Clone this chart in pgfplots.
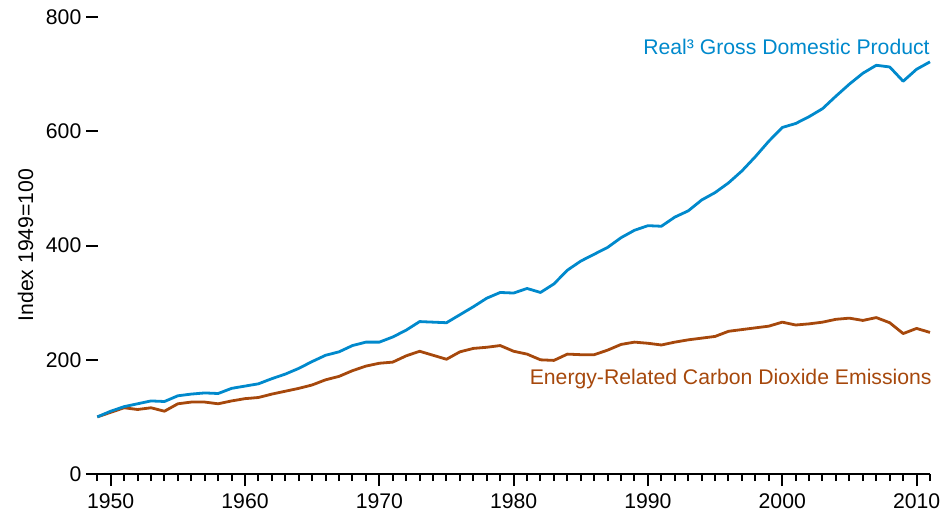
\documentclass[border=0pt]{standalone}
\usepackage{fontspec}
\setmainfont{Liberation Sans}
\usepackage{pgfplots}
\pgfplotsset{compat=1.18}
\definecolor{gdpblue}{RGB}{0,137,204}
\definecolor{co2brown}{RGB}{166,72,12}
\pgfplotstableread{
year gdp co2
1949 100 100
1950 110 108
1951 118 116
1952 123 113
1953 128 116
1954 127 110
1955 137 123
1956 140 126
1957 142 126
1958 141 123
1959 150 128
1960 154 132
1961 158 134
1962 167 140
1963 175 145
1964 185 150
1965 197 156
1966 208 165
1967 214 171
1968 225 181
1969 231 189
1970 231 194
1971 240 196
1972 252 207
1973 267 215
1974 266 208
1975 265 201
1976 279 214
1977 293 220
1978 308 222
1979 318 225
1980 317 215
1981 325 210
1982 318 200
1983 333 199
1984 357 210
1985 373 209
1986 385 209
1987 397 217
1988 414 227
1989 427 231
1990 435 229
1991 434 226
1992 450 231
1993 461 235
1994 480 238
1995 493 241
1996 510 250
1997 531 253
1998 556 256
1999 583 259
2000 607 266
2001 614 261
2002 626 263
2003 640 266
2004 662 271
2005 683 273
2006 702 269
2007 716 274
2008 713 265
2009 688 246
2010 709 255
2011 722 248
}\datatable
\begin{document}
\begin{tikzpicture}
\begin{axis}[
  scale only axis,
  width=422bp, height=228.35bp,
  xmin=1948.16, xmax=2011,
  ymin=0, ymax=800,
  clip=false,
  axis x line*=bottom,
  axis y line*=left,
  x axis line style={-, line width=1bp, black},
  y axis line style={draw=none},
  tick align=outside,
  xtick={1950,1960,...,2010},
  minor xtick={1949,...,2011},
  ytick={0,200,...,800},
  major tick length=6bp,
  minor tick length=3.5bp,
  every tick/.style={black, line width=1bp},
  ytick style={xshift=6bp},
  font=\fontsize{10.6bp}{12bp}\selectfont,
  /pgf/number format/assume math mode=true,
  /pgf/number format/1000 sep={},
  xticklabel style={anchor=north, inner sep=0pt, yshift=-3.5bp},
  yticklabel style={anchor=east, inner sep=0pt, xshift=3.85bp},
]
\addplot[co2brown, line width=1.4bp, line join=round] table[x=year, y=co2] {\datatable};
\addplot[gdpblue, line width=1.4bp, line join=round] table[x=year, y=gdp] {\datatable};
\node[anchor=base east, inner sep=0pt, text=gdpblue] at (axis cs:2011,734) {Real³ Gross Domestic Product};
\node[anchor=base east, inner sep=0pt, text=co2brown] at (axis cs:2011.15,156) {Energy-Related Carbon Dioxide Emissions};
\end{axis}
\node[rotate=90, anchor=base, inner sep=0pt, font=\fontsize{10.6bp}{12bp}\selectfont] at (-26.5bp,114.5bp) {Index 1949=100};
\pgfresetboundingbox
\useasboundingbox (-43bp,-18.5bp) rectangle (428.5bp,237bp);
\end{tikzpicture}
\end{document}
